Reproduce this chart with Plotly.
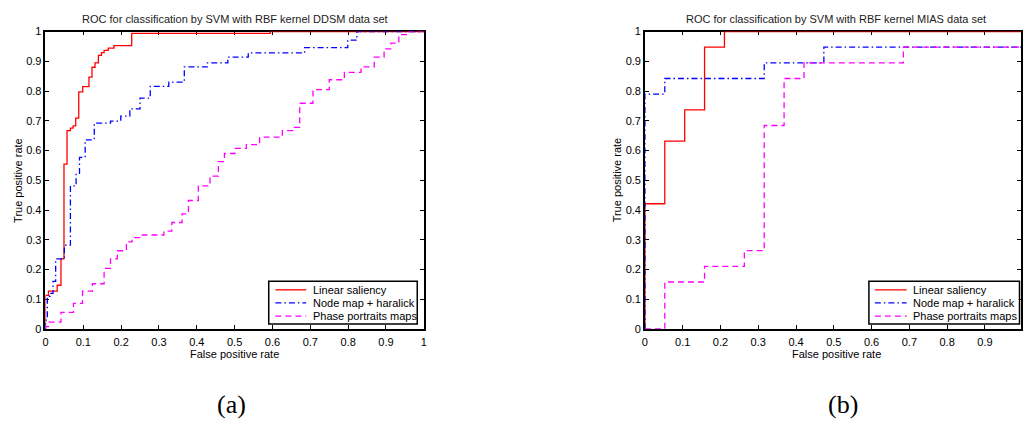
import plotly.graph_objects as go

# ---- DDSM data set (left panel) ----
ddsm_lin_fpr = [0, 0, 0.008, 0.031, 0.041, 0.049, 0.057, 0.066, 0.073, 0.080, 0.088, 0.0985, 0.115, 0.123, 0.131, 0.140, 0.148, 0.155, 0.166, 0.181, 0.228, 0.594, 1.0]
ddsm_lin_tpr = [0, 0.113, 0.127, 0.147, 0.236, 0.554, 0.667, 0.675, 0.683, 0.709, 0.797, 0.815, 0.847, 0.880, 0.895, 0.920, 0.929, 0.937, 0.944, 0.953, 0.994, 1.0, 1.0]

ddsm_node_fpr = [0, 0, 0.005, 0.012, 0.020, 0.027, 0.050, 0.066, 0.081, 0.090, 0.105, 0.129, 0.172, 0.199, 0.223, 0.250, 0.277, 0.326, 0.367, 0.428, 0.482, 0.536, 0.685, 0.799, 0.823, 1.0]
ddsm_node_tpr = [0, 0.03, 0.11, 0.12, 0.16, 0.236, 0.282, 0.481, 0.523, 0.577, 0.636, 0.692, 0.699, 0.716, 0.740, 0.776, 0.816, 0.830, 0.881, 0.895, 0.914, 0.928, 0.946, 0.971, 1.0, 1.0]

ddsm_phase_fpr = [0, 0, 0.008, 0.041, 0.074, 0.098, 0.124, 0.155, 0.172, 0.190, 0.214, 0.229, 0.256, 0.313, 0.334, 0.361, 0.378, 0.404, 0.435, 0.457, 0.473, 0.501, 0.531, 0.566, 0.626, 0.653, 0.672, 0.707, 0.750, 0.790, 0.834, 0.869, 0.895, 0.913, 0.934, 0.961, 1.0]
ddsm_phase_tpr = [0, 0.008, 0.023, 0.056, 0.086, 0.127, 0.152, 0.204, 0.236, 0.263, 0.293, 0.307, 0.316, 0.329, 0.358, 0.387, 0.432, 0.481, 0.514, 0.563, 0.590, 0.607, 0.620, 0.645, 0.667, 0.678, 0.759, 0.805, 0.838, 0.863, 0.881, 0.914, 0.942, 0.961, 0.990, 1.0, 1.0]

# ---- MIAS data set (right panel) ----
mias_lin_fpr = [0, 0, 0.0526, 0.1053, 0.1579, 0.2105, 1.0]
mias_lin_tpr = [0, 0.4211, 0.6316, 0.7368, 0.9474, 1.0, 1.0]

mias_node_fpr = [0, 0, 0.0526, 0.3158, 0.4737, 1.0]
mias_node_tpr = [0, 0.7895, 0.8421, 0.8947, 0.9474, 0.9474]

mias_phase_fpr = [0, 0.0526, 0.1579, 0.2632, 0.3158, 0.3684, 0.4211, 0.6842, 1.0]
mias_phase_tpr = [0, 0.1579, 0.2105, 0.2632, 0.6842, 0.8421, 0.8947, 0.9474, 0.9474]

series_names = ["Linear saliency", "Node map + haralick", "Phase portraits maps"]
titles = ["ROC for classification by SVM with RBF kernel DDSM data set",
          "ROC for classification by SVM with RBF kernel MIAS data set"]
tick_vals = [0, 0.1, 0.2, 0.3, 0.4, 0.5, 0.6, 0.7, 0.8, 0.9, 1]
tick_text = ["0", "0.1", "0.2", "0.3", "0.4", "0.5", "0.6", "0.7", "0.8", "0.9", "1"]

W, H = 1024, 428
FONT = "Liberation Sans, Arial, sans-serif"
FS = 11
styles = [dict(color="#ff0000", dash="solid", width=1.3),
          dict(color="#0000ff", dash="6px,3px,1.5px,3px", width=1.3),
          dict(color="#ff00ff", dash="6px,4px", width=1.3)]

def px_x(p):
    return p / W

def px_y(p):
    return (H - p) / H

fig = go.Figure()

panels = [
    ("x", "y", [(ddsm_lin_fpr, ddsm_lin_tpr), (ddsm_node_fpr, ddsm_node_tpr), (ddsm_phase_fpr, ddsm_phase_tpr)]),
    ("x2", "y2", [(mias_lin_fpr, mias_lin_tpr), (mias_node_fpr, mias_node_tpr), (mias_phase_fpr, mias_phase_tpr)]),
]
for xa, ya, data in panels:
    for (fx, ty), name, st in zip(data, series_names, styles):
        fig.add_trace(go.Scatter(x=fx, y=ty, mode="lines", name=name, line=dict(shape="hv", **st),
                                 xaxis=xa, yaxis=ya, showlegend=False))

axis_common = dict(showline=True, linecolor="black", linewidth=1.5, mirror="allticks",
                   ticks="inside", ticklen=4, tickcolor="black", tickwidth=1,
                   showgrid=False, zeroline=False, tickvals=tick_vals, ticktext=tick_text,
                   tickfont=dict(family=FONT, size=FS, color="black"), layer="below traces")

y_top, y_bot = 26.3, 332.3
fig.update_layout(
    width=W, height=H, margin=dict(l=0, r=0, t=0, b=0),
    paper_bgcolor="white", plot_bgcolor="white",
    xaxis=dict(domain=[px_x(42.7), px_x(423.3)], range=[0, 1], anchor="y", ticklabelstandoff=2, **axis_common),
    yaxis=dict(domain=[px_y(y_bot), px_y(y_top)], range=[0, 1], anchor="x", **axis_common),
    xaxis2=dict(domain=[px_x(645.7), 1.0], range=[0, (1024 - 645.7) / 380.0], anchor="y2", ticklabelstandoff=2, **axis_common),
    yaxis2=dict(domain=[px_y(y_bot), px_y(y_top)], range=[0, 1], anchor="x2", **axis_common),
    showlegend=False,
)

annotations = []
shapes = []
for cx, title in zip([233, 838], titles):
    annotations.append(dict(x=px_x(cx), y=px_y(13), xref="paper", yref="paper", text=title,
                            showarrow=False, xanchor="center", yanchor="middle",
                            font=dict(family=FONT, size=FS, color="#222")))
for cx in [233, 838]:
    annotations.append(dict(x=px_x(cx), y=px_y(358), xref="paper", yref="paper", text="False positive rate",
                            showarrow=False, xanchor="center", yanchor="middle",
                            font=dict(family=FONT, size=FS, color="black")))
for cx in [15, 618]:
    annotations.append(dict(x=px_x(cx), y=px_y(179), xref="paper", yref="paper", text="True positive rate",
                            showarrow=False, xanchor="center", yanchor="middle", textangle=-90,
                            font=dict(family=FONT, size=FS, color="black")))
for cx, lab in zip([230, 845], ["(a)", "(b)"]):
    annotations.append(dict(x=px_x(cx), y=px_y(410), xref="paper", yref="paper", text=lab,
                            showarrow=False, xanchor="center", yanchor="middle",
                            font=dict(family="Liberation Serif, DejaVu Serif, serif", size=26, color="black")))

# legend boxes (drawn as a MATLAB-style legend)
legend_boxes = [(267.3, 416.7, 274, 305, 310), (871, 1022.5, 877, 909, 913)]
row_y = [292, 305.5, 319]
for (bx0, bx1, lx0, lx1, tx) in legend_boxes:
    shapes.append(dict(type="rect", xref="paper", yref="paper", x0=px_x(bx0), x1=px_x(bx1),
                       y0=px_y(327.3), y1=px_y(283.3), line=dict(color="black", width=1.5),
                       fillcolor="white", layer="above"))
    for ry, name, st in zip(row_y, series_names, styles):
        shapes.append(dict(type="line", xref="paper", yref="paper", x0=px_x(lx0), x1=px_x(lx1),
                           y0=px_y(ry), y1=px_y(ry), layer="above",
                           line=dict(color=st["color"], dash=st["dash"], width=1.3)))
        annotations.append(dict(x=px_x(tx), y=px_y(ry), xref="paper", yref="paper", text=name,
                                showarrow=False, xanchor="left", yanchor="middle",
                                font=dict(family=FONT, size=FS, color="black")))

fig.update_layout(annotations=annotations, shapes=shapes)

fig.write_html("out.html")
